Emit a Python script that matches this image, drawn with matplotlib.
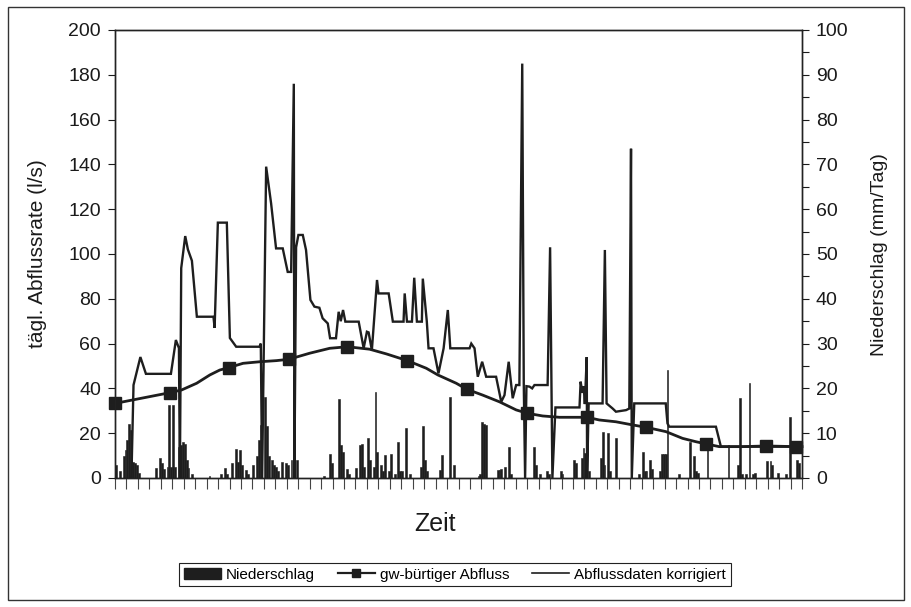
import numpy as np
import matplotlib
matplotlib.use("Agg")
import matplotlib.pyplot as plt
from matplotlib.patches import Rectangle, Patch
from matplotlib.lines import Line2D

plt.rcParams['font.family'] = ['Liberation Sans', 'DejaVu Sans']

# Tagesniederschlag (Tag, mm/Tag), nur Tage mit Niederschlag
regen_tag = [0, 2, 4, 5, 6, 7, 8, 9, 10, 11, 12, 21, 23, 24, 25, 27, 28, 29, 30, 31,
             33, 34, 35, 36, 37, 38, 40, 49, 55, 57, 58, 61, 63, 64, 65, 66, 68, 69, 72, 74,
             75, 76, 78, 79, 80, 82, 83, 84, 85, 87, 89, 90, 92, 95, 109, 112, 113, 117, 118, 119,
             121, 122, 126, 128, 129, 130, 132, 133, 135, 136, 137, 139, 140, 141, 143, 144, 146, 148, 149, 150,
             152, 154, 160, 161, 162, 163, 170, 171, 175, 177, 190, 191, 192, 193, 194, 200, 201, 202, 204, 206,
             207, 219, 220, 222, 226, 227, 233, 234, 240, 241, 244, 245, 246, 248, 254, 255, 256, 258, 259, 262,
             274, 276, 277, 278, 280, 281, 285, 286, 287, 288, 289, 295, 301, 303, 304, 305, 310, 321, 326, 327,
             328, 330, 332, 334, 335, 341, 343, 344, 347, 351, 353, 357, 358]
regen_mm = [2.9, 1.5, 4.8, 6.3, 8.5, 12.0, 10.7, 3.5, 3.3, 3.0, 1.2, 2.2, 4.5, 3.3, 2.0, 2.5, 16.3, 2.5, 16.3, 2.5,
            7.0, 7.4, 8.1, 7.7, 4.0, 2.2, 1.0, 0.4, 1.0, 2.2, 1.0, 3.3, 6.4, 3.5, 6.2, 2.9, 1.8, 0.8, 2.9, 4.8,
            8.5, 11.8, 18.1, 11.5, 5.0, 4.0, 3.0, 2.5, 1.5, 3.5, 3.3, 2.9, 4.0, 4.0, 0.5, 5.4, 3.4, 17.6, 7.4, 5.9,
            2.0, 1.0, 2.2, 7.4, 7.7, 2.5, 8.9, 4.0, 2.5, 19.2, 5.9, 3.0, 1.5, 5.1, 1.5, 5.3, 1.0, 8.1, 1.5, 1.5,
            11.1, 1.0, 2.5, 11.6, 4.0, 1.5, 1.8, 5.1, 18.1, 2.9, 0.5, 1.0, 12.6, 12.0, 11.8, 1.8, 1.8, 1.9, 2.4, 7.0,
            1.0, 7.0, 2.9, 1.0, 1.5, 1.0, 1.5, 1.0, 4.0, 3.3, 4.4, 6.6, 5.5, 1.5, 4.4, 10.2, 3.0, 10.0, 1.5, 8.9,
            1.0, 5.9, 1.5, 1.5, 4.0, 2.0, 1.5, 5.4, 5.4, 5.4, 24.0, 1.0, 8.1, 4.8, 1.5, 1.2, 7.7, 7.4, 2.9, 17.8,
            1.0, 1.0, 21.1, 1.0, 1.2, 3.7, 3.7, 3.0, 1.2, 1.0, 13.7, 4.0, 3.3]

# Abflussdaten korrigiert (Stützpunkte der Ganglinie, l/s)
abfluss_tag = [8.1, 9.2, 12.8, 15.7, 28.8, 31.4, 33.0, 33.5, 34.2, 36.3, 37.7, 39.8, 42.4, 51.1, 51.7,
               53.4, 58.1, 59.7, 63.0, 75.2, 75.9, 76.6, 78.7, 81.3, 83.9, 87.4, 90.0, 91.8, 93.2, 93.5,
               94.4, 95.6, 97.9, 99.6, 101.9, 104.0, 106.6, 108.3, 111.0, 112.2, 115.3, 116.7, 117.8, 119.0, 120.2,
               127.2, 129.8, 131.5, 132.4, 134.1, 136.8, 137.6, 142.9, 145.1, 150.7, 151.3, 152.5, 155.1, 156.3, 157.7,
               160.3, 160.8, 162.9, 163.8, 166.4, 169.0, 171.7, 173.9, 175.2, 185.3, 186.2, 187.9, 189.6, 191.9, 194.0,
               199.2, 201.9, 203.6, 205.8, 207.9, 209.7, 211.4, 212.9, 213.7, 214.4, 215.1, 216.7, 218.1, 219.3, 226.2,
               227.5, 228.7, 230.3, 242.9, 243.5, 244.4, 245.1, 245.7, 246.7, 246.9, 247.7, 255.0, 256.2, 257.1, 260.3,
               262.0, 267.3, 269.0, 269.9, 270.3, 271.6, 288.1, 289.0, 289.9, 314.4, 317.0, 359.0]
abfluss_wert = [0, 41.5, 54, 46.5, 46.5, 61.6, 58, 0, 93.7, 108, 102, 97, 72, 72, 67,
                114, 114, 62.5, 58.6, 58.6, 60, 0, 139, 122.6, 102.5, 102.5, 92, 92, 176, 0,
                103, 108.5, 108.5, 101.8, 79.5, 76.5, 76, 71.3, 69, 62.4, 62.4, 74.2, 70, 75, 69.8,
                69.8, 57.9, 65.3, 65, 57, 88.4, 82.4, 82.4, 69.8, 69.8, 82.4, 69.8, 69.8, 89.4, 69.8,
                69.8, 89, 69.8, 57.9, 57.9, 46.7, 57.9, 75, 57.9, 57.9, 60, 57.9, 45.2, 51.9, 45.2,
                45.2, 34, 37, 51.9, 35.6, 41.5, 41.5, 185, 42, 0, 41, 40.8, 40, 41.5, 41.5,
                103, 0, 31.5, 31.5, 43, 38, 41, 33, 54, 0, 33.3, 33.3, 101.8, 33.3, 31,
                29.6, 30.3, 31, 147, 0, 33.3, 33.3, 24.4, 22.9, 22.9, 14, 14]

# gw-bürtiger Abfluss (l/s); Marker an den Monatswerten
gw_tag = [-0.5, 28.3, 34.4, 42.3, 49.2, 54.4, 59.2, 66.6, 75.4, 84.1, 90.6, 101.5, 112.0, 121.3,
          132.9, 141.7, 152.7, 162.6, 168.7, 178.3, 183.9, 192.2, 201.0, 209.7, 215.5, 223.6, 232.4, 241.1,
          246.9, 253.3, 262.0, 270.7, 278.0, 288.2, 296.9, 303.9, 309.4, 316.1, 328.3, 340.8, 356.2, 359.5]
gw_wert = [33.3, 38.1, 39.3, 42.3, 46.0, 48.2, 49.3, 51.2, 51.9, 52.4, 53.0, 55.7, 57.9, 58.6,
           57.5, 55.4, 52.4, 49.0, 46.0, 42.3, 39.6, 37.0, 34.0, 30.4, 28.9, 27.7, 27.1, 27.1,
           27.1, 25.9, 25.1, 23.7, 22.6, 20.7, 17.7, 16.2, 15.2, 14.0, 14.0, 14.3, 14.0, 14.0]
gw_marker = [0, 1, 6, 10, 13, 16, 20, 24, 28, 32, 36, 39, 40]

schwarz = "#1e1e1e"

fig = plt.figure(figsize=(9.11, 6.07), dpi=100)
ax = fig.add_axes([115 / 911, 1 - 478 / 607, 687 / 911, 448 / 607])
ax2 = ax.twinx()

ax2.bar(regen_tag, regen_mm, width=1.0, color=schwarz, edgecolor=schwarz, linewidth=0.4)
ax.plot(abfluss_tag, abfluss_wert, color=schwarz, lw=1.7, solid_joinstyle="miter")
ax.plot(gw_tag, gw_wert, color=schwarz, lw=2.0, marker="s", ms=8,
        markevery=gw_marker, clip_on=False)

# Linien vor die Balken
ax.set_zorder(ax2.get_zorder() + 1)
ax.patch.set_visible(False)

ax.set_xlim(-0.5, 359.5)
ax.set_ylim(0, 200)
ax2.set_ylim(0, 100)

ax.set_xticks(np.arange(-0.5, 360, 6))
ax.set_xticklabels([])
ax.tick_params(axis="x", length=8, width=0.8, color="#444444", direction="out")
ax.set_yticks(range(0, 201, 20))
ax.tick_params(axis="y", length=5, width=0.8, labelsize=14, pad=5, colors="#1a1a1a")
ax2.set_yticks(range(0, 101, 10))
ax2.set_yticks(range(0, 101, 5), minor=True)
ax2.tick_params(axis="y", which="both", length=5, width=0.8, labelsize=14, pad=5, colors="#1a1a1a")

for a in (ax, ax2):
    for s in a.spines.values():
        s.set_color("#222222")
        s.set_linewidth(1.0)

fig.text(38 / 911, 1 - 254 / 607, "tägl. Abflussrate (l/s)", rotation=90,
         ha="center", va="center", fontsize=15, color="#1a1a1a")
fig.text(879 / 911, 1 - 255 / 607, "Niederschlag (mm/Tag)", rotation=90,
         ha="center", va="center", fontsize=14, color="#1a1a1a")
fig.text(435 / 911, 1 - 524 / 607, "Zeit", ha="center", va="center",
         fontsize=18, color="#1a1a1a")

handles = [
    Patch(facecolor=schwarz, edgecolor=schwarz, label="Niederschlag"),
    Line2D([], [], color=schwarz, lw=1.6, marker="s", ms=6, label="gw-bürtiger Abfluss"),
    Line2D([], [], color=schwarz, lw=1.2, label="Abflussdaten korrigiert"),
]
leg = fig.legend(handles=handles, loc="center", bbox_to_anchor=(455 / 911, 1 - 574.5 / 607),
                 ncol=3, fontsize=11, frameon=True, fancybox=False, framealpha=1,
                 edgecolor="#222222", handlelength=2.4, handletextpad=0.35,
                 columnspacing=1.5, borderpad=0.3)
leg.get_frame().set_linewidth(0.8)

fig.patches.append(Rectangle((8 / 911, 7 / 607), 896 / 911, 593 / 607,
                             transform=fig.transFigure, fill=False,
                             edgecolor="#333333", lw=1.0))

fig.savefig("out.png", dpi=100)
